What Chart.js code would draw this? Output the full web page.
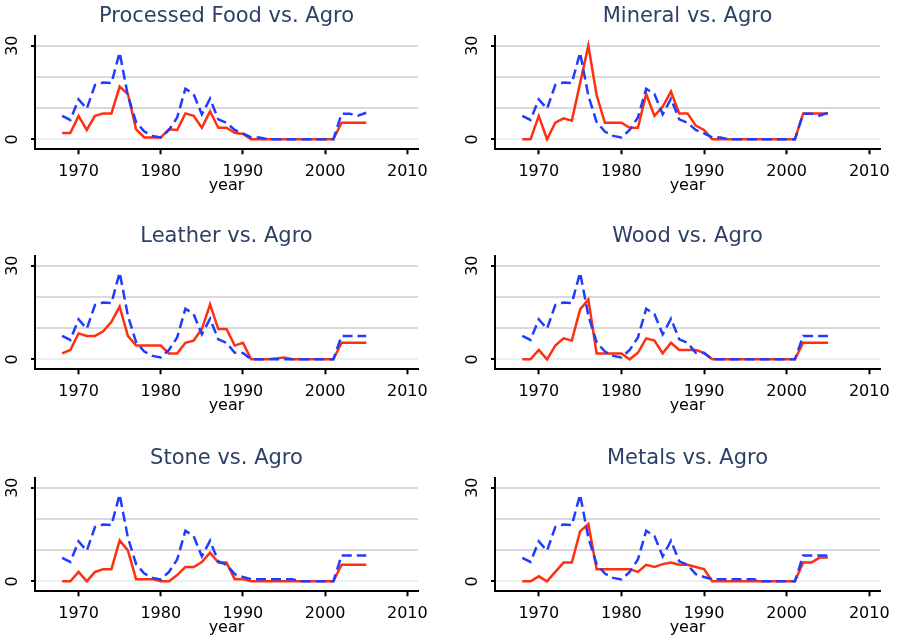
<!DOCTYPE html>
<html>
<head>
<meta charset="utf-8">
<script src="https://cdn.jsdelivr.net/npm/chart.js@4.4.1/dist/chart.umd.min.js"></script>
<style>
  html, body { margin: 0; padding: 0; background: #fff; }
  #wrap { position: relative; width: 900px; height: 635px; overflow: hidden; }
  #wrap canvas { position: absolute; }
</style>
</head>
<body>
<div id="wrap"></div>
<script>
// years on the x axis
const years = [1968, 1969, 1970, 1971, 1972, 1973, 1974, 1975, 1976, 1977,
               1978, 1979, 1980, 1981, 1982, 1983, 1984, 1985, 1986, 1987,
               1988, 1989, 1990, 1991, 1992, 1993, 1994, 1995, 1996, 1997,
               1998, 1999, 2000, 2001, 2002, 2003, 2004, 2005];

const xTicks = [1970, 1980, 1990, 2000, 2010];
const yGrid = [0, 10, 20, 30];
const yTickLabels = [0, 30];

// Agro (blue dashed): same up to 1988, the tail differs slightly between panel rows
const agroHead = [7.5, 6.2, 12.8, 9.8, 17.4, 18.2, 18, 27.8, 14, 5.5,
                  2.5, 1.1, 0.6, 3, 7, 16.2, 14.5, 8, 13, 6.4, 5.3];
const agroTailA = [3, 1.9, 0.6, 0.6, 0, 0, 0, 0, 0, 0, 0, 0, 0, 8.2, 8.2, 7.6, 8.5];
const agroTailB = [2.1, 2, 0, 0, 0, 0, 0, 0, 0, 0, 0, 0, 0, 7.5, 7.5, 7.5, 7.5];
const agroTailC = [2.3, 1.4, 0.7, 0.7, 0.7, 0.7, 0.7, 0.7, 0, 0, 0, 0, 0, 8.3, 8.3, 8.3, 8.3];

// the other sector (red solid)
const food    = [2, 2, 7.5, 3, 7.5, 8.3, 8.3, 16.9, 14.5, 3.2, 0.6, 0.6, 0.6, 3.2, 3, 8.3, 7.5, 3.7, 9, 3.7,
                 3.7, 2.1, 1.7, 0, 0, 0, 0, 0, 0, 0, 0, 0, 0, 0, 5.3, 5.3, 5.3, 5.3];
const mineral = [0, 0, 7.5, 0, 5.3, 6.7, 6, 18, 30, 14.2, 5.3, 5.3, 5.3, 3.7, 3.7, 14.5, 7.5, 10.5, 15.3, 8.3,
                 8.3, 4.4, 3, 0, 0, 0, 0, 0, 0, 0, 0, 0, 0, 0, 8.3, 8.3, 8.3, 8.3];
const leather = [1.9, 3, 8.3, 7.5, 7.5, 9, 12, 16.9, 7.5, 4.4, 4.4, 4.4, 4.4, 1.9, 1.9, 5.3, 6, 9.7, 17.6, 9.7,
                 9.7, 4.4, 5.3, 0, 0, 0, 0.3, 0.6, 0, 0, 0, 0, 0, 0, 5.3, 5.3, 5.3, 5.3];
const wood    = [0, 0, 3, 0, 4.4, 6.7, 6, 16, 19.2, 1.9, 1.9, 1.9, 1.9, 0, 2.1, 6.7, 6, 1.9, 5.3, 3,
                 3, 3, 2.1, 0, 0, 0, 0, 0, 0, 0, 0, 0, 0, 0, 5.3, 5.3, 5.3, 5.3];
const stone   = [0, 0, 3, 0, 3, 3.9, 3.9, 13.1, 9.9, 0.7, 0.7, 0.7, 0, 0, 2, 4.6, 4.6, 6.2, 9.2, 6,
                 6, 0.7, 0.7, 0, 0, 0, 0, 0, 0, 0, 0, 0, 0, 0, 5.3, 5.3, 5.3, 5.3];
const metals  = [0, 0, 1.6, 0, 3, 6, 6, 16, 18.4, 3.9, 3.9, 3.9, 3.9, 3.9, 3, 5.3, 4.6, 5.5, 6, 5.3,
                 5.3, 4.6, 3.9, 0, 0, 0, 0, 0, 0, 0, 0, 0, 0, 0, 6, 6, 7.6, 7.6];

const panels = [
  { title: 'Processed Food vs. Agro', red: food,    agro: agroHead.concat(agroTailA) },
  { title: 'Mineral vs. Agro',        red: mineral, agro: agroHead.concat(agroTailA) },
  { title: 'Leather vs. Agro',        red: leather, agro: agroHead.concat(agroTailB) },
  { title: 'Wood vs. Agro',           red: wood,    agro: agroHead.concat(agroTailB) },
  { title: 'Stone vs. Agro',          red: stone,   agro: agroHead.concat(agroTailC) },
  { title: 'Metals vs. Agro',         red: metals,  agro: agroHead.concat(agroTailC) }
];

const FONT = '"DejaVu Sans", Verdana, sans-serif';
const rowTops = [0, 220, 442];

// rotated 0 / 30 labels on the y axis
const yLabelPlugin = {
  id: 'yLabels',
  afterDraw(chart) {
    const { ctx, scales: { y }, chartArea } = chart;
    ctx.save();
    ctx.font = '16px ' + FONT;
    ctx.fillStyle = '#000';
    ctx.textAlign = 'center';
    ctx.textBaseline = 'middle';
    yTickLabels.forEach(v => {
      ctx.save();
      ctx.translate(chartArea.left - 22, y.getPixelForValue(v));
      ctx.rotate(-Math.PI / 2);
      ctx.fillText(String(v), 0, 0);
      ctx.restore();
    });
    ctx.restore();
  }
};

const wrap = document.getElementById('wrap');

panels.forEach((p, i) => {
  const col = i % 2;
  const row = Math.floor(i / 2);
  const canvas = document.createElement('canvas');
  canvas.width = 450;
  canvas.height = 195;
  canvas.style.left = (col * 450) + 'px';
  canvas.style.top = rowTops[row] + 'px';
  wrap.appendChild(canvas);

  const yWidth = col === 0 ? 35 : 45;
  const rightPad = col === 0 ? 32 : 20;

  new Chart(canvas.getContext('2d'), {
    type: 'line',
    data: {
      datasets: [{
        label: 'Agro',
        data: years.map((yr, k) => ({ x: yr, y: p.agro[k] })),
        borderColor: '#1f3cff',
        borderWidth: 2.5,
        borderDash: [10, 5],
        pointRadius: 0,
        tension: 0
      }, {
        label: p.title.split(' vs.')[0],
        data: years.map((yr, k) => ({ x: yr, y: p.red[k] })),
        borderColor: '#ff3010',
        borderWidth: 2.5,
        pointRadius: 0,
        tension: 0
      }]
    },
    options: {
      responsive: false,
      animation: false,
      layout: { padding: { left: 0, right: rightPad, top: 0, bottom: 0 } },
      plugins: {
        legend: { display: false },
        tooltip: { enabled: false },
        title: {
          display: true,
          text: p.title,
          fullSize: false,
          color: '#2c4068',
          font: { family: FONT, size: 21, weight: 'normal', lineHeight: 1.2 },
          padding: { top: 4, bottom: 6.8 }
        }
      },
      scales: {
        x: {
          type: 'linear',
          min: 1964.7,
          max: 2011.3,
          afterBuildTicks: s => { s.ticks = xTicks.map(v => ({ value: v })); },
          afterFit: s => { s.height = 45.7; },
          ticks: {
            color: '#000',
            font: { family: FONT, size: 16 },
            padding: 8,
            maxRotation: 0,
            autoSkip: false,
            callback: v => String(v)
          },
          grid: { drawOnChartArea: false, drawTicks: true, tickLength: 5, tickWidth: 2, tickColor: '#000' },
          border: { color: '#000', width: 2 },
          title: {
            display: true,
            text: 'year',
            color: '#000',
            font: { family: FONT, size: 16, lineHeight: 1.2 },
            padding: { top: 0, bottom: 0 }
          }
        },
        y: {
          type: 'linear',
          min: -3.2,
          max: 33.1,
          afterBuildTicks: s => { s.ticks = yGrid.map(v => ({ value: v })); },
          afterFit: s => { s.width = yWidth; },
          ticks: { display: false },
          grid: {
            color: c => c.tick.value === 0 ? '#e9f0f0' : '#d9d9d9',
            lineWidth: 2,
            drawTicks: true,
            tickLength: 4,
            tickWidth: 2,
            tickColor: c => yTickLabels.includes(c.tick.value) ? '#000' : 'rgba(0,0,0,0)'
          },
          border: { color: '#000', width: 2 }
        }
      }
    },
    plugins: [yLabelPlugin]
  });
});
</script>
</body>
</html>
